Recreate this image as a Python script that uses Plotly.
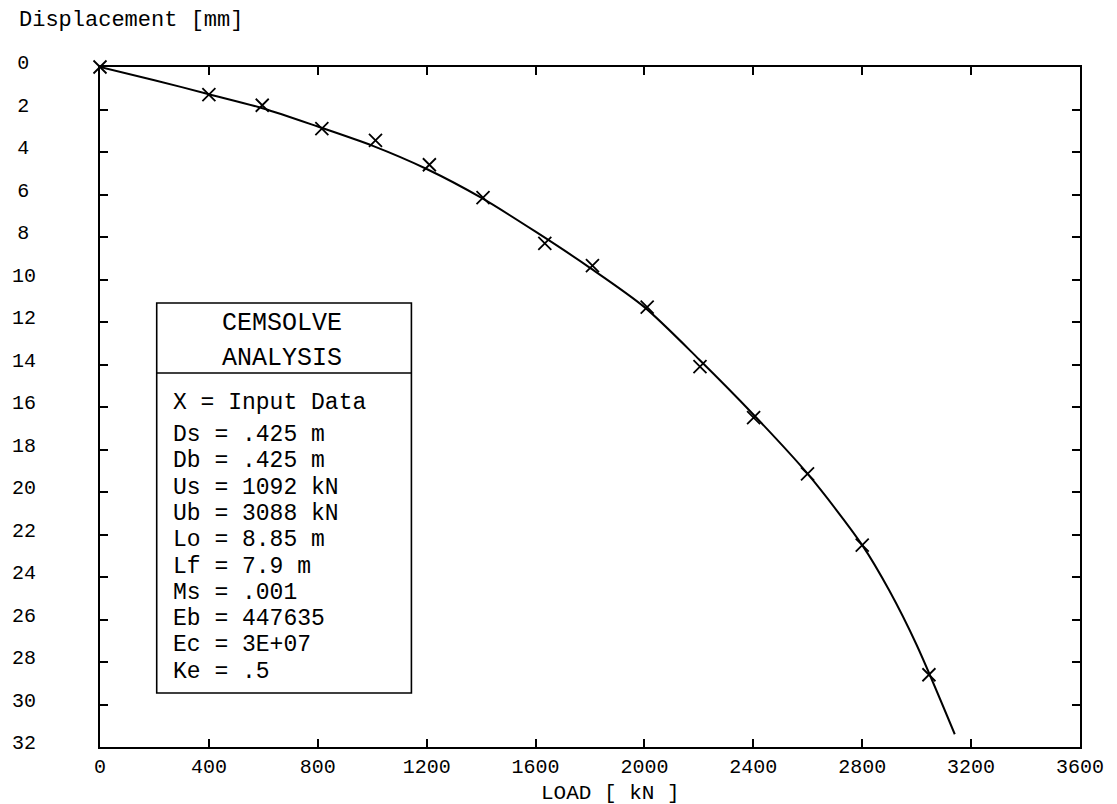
import plotly.graph_objects as go

# ---- data ----
input_load = [0, 400, 596, 815, 1012, 1210, 1407, 1634, 1809, 2010, 2204, 2401, 2599, 2800, 3045]
input_disp = [0, 1.3, 1.8, 2.9, 3.45, 4.6, 6.15, 8.3, 9.35, 11.3, 14.1, 16.5, 19.15, 22.5, 28.6]

fit_load = [0, 200, 400, 600, 800, 1000, 1200, 1400, 1600, 1800, 2000, 2200, 2400, 2600, 2800, 2900, 3000, 3140]
fit_disp = [0, 0.62, 1.28, 1.95, 2.8, 3.7, 4.8, 6.15, 7.75, 9.45, 11.3, 13.75, 16.35, 19.15, 22.5, 24.65, 27.2, 31.4]

x_ticks = [0, 400, 800, 1200, 1600, 2000, 2400, 2800, 3200, 3600]
y_ticks = [0, 2, 4, 6, 8, 10, 12, 14, 16, 18, 20, 22, 24, 26, 28, 30, 32]
y_ticktext = [str(v) if v >= 10 else str(v) + "\u2004" for v in y_ticks]

box_title = ["CEMSOLVE", "ANALYSIS"]
box_lines = ["X = Input Data", "Ds = .425 m", "Db = .425 m", "Us = 1092 kN", "Ub = 3088 kN",
             "Lo = 8.85 m", "Lf = 7.9 m", "Ms = .001", "Eb = 447635", "Ec = 3E+07", "Ke = .5"]

W, H = 1117, 804
L, R, T, B = 95, 1080, 67, 747
FONT = "Liberation Mono, DejaVu Sans Mono, monospace"


def px(p):
    return (p - L) / (R - L)


def py(p):
    return 1 - (p - T) / (B - T)


fig = go.Figure()
fig.add_trace(go.Scatter(x=fit_load, y=fit_disp, mode="lines",
                         line=dict(color="black", width=2, shape="spline", smoothing=0.8),
                         showlegend=False, hoverinfo="skip"))
fig.add_trace(go.Scatter(x=input_load, y=input_disp, mode="markers", cliponaxis=False,
                         marker=dict(symbol="x-thin", size=13, line=dict(color="black", width=1.8)),
                         showlegend=False))

axis_common = dict(showline=True, linecolor="black", linewidth=2, mirror="ticks", ticks="inside",
                   ticklen=8, tickwidth=1.6, tickcolor="black", showgrid=False, zeroline=False,
                   tickfont=dict(family=FONT, size=20, color="black"))

fig.update_xaxes(range=[0, 3600], tickmode="array", tickvals=x_ticks, ticktext=[str(v) for v in x_ticks],
                 ticklabelstandoff=0, **axis_common)
fig.update_yaxes(range=[32, 0], tickmode="array", tickvals=y_ticks, ticktext=y_ticktext,
                 ticklabelstandoff=58, ticklabelshift=5, **axis_common)

# info box
shapes = [
    dict(type="rect", xref="paper", yref="paper", x0=px(152), x1=px(408), y0=py(303), y1=py(693),
         line=dict(color="black", width=1.6), fillcolor="white", layer="above"),
    dict(type="line", xref="paper", yref="paper", x0=px(152), x1=px(408), y0=py(373), y1=py(373),
         line=dict(color="black", width=1.6)),
]

annotations = []
for txt, yc in zip(box_title, [323, 358]):
    annotations.append(dict(text=txt, xref="paper", yref="paper", x=px(278), y=py(yc), xanchor="center",
                            yanchor="middle", showarrow=False, font=dict(family=FONT, size=25, color="black")))
rows_y = [403, 435] + [435 + 26.3 * i for i in range(1, 10)]
for txt, yc in zip(box_lines, rows_y):
    annotations.append(dict(text=txt.replace(" ", "\u00a0"), xref="paper", yref="paper", x=px(166), y=py(yc),
                            xanchor="left", yanchor="middle", showarrow=False,
                            font=dict(family=FONT, size=23, color="black")))

annotations.append(dict(text="Displacement [mm]", xref="paper", yref="paper", x=px(12), y=py(20),
                        xanchor="left", yanchor="middle", showarrow=False,
                        font=dict(family=FONT, size=22, color="black")))
annotations.append(dict(text="LOAD [ kN ]", xref="paper", yref="paper", x=px(608), y=py(793),
                        xanchor="center", yanchor="middle", showarrow=False,
                        font=dict(family=FONT, size=21, color="black")))

fig.update_layout(width=W, height=H, margin=dict(l=L, r=W - R, t=T, b=H - B),
                  paper_bgcolor="white", plot_bgcolor="white",
                  shapes=shapes, annotations=annotations, showlegend=False)

fig.write_html("out.html")
